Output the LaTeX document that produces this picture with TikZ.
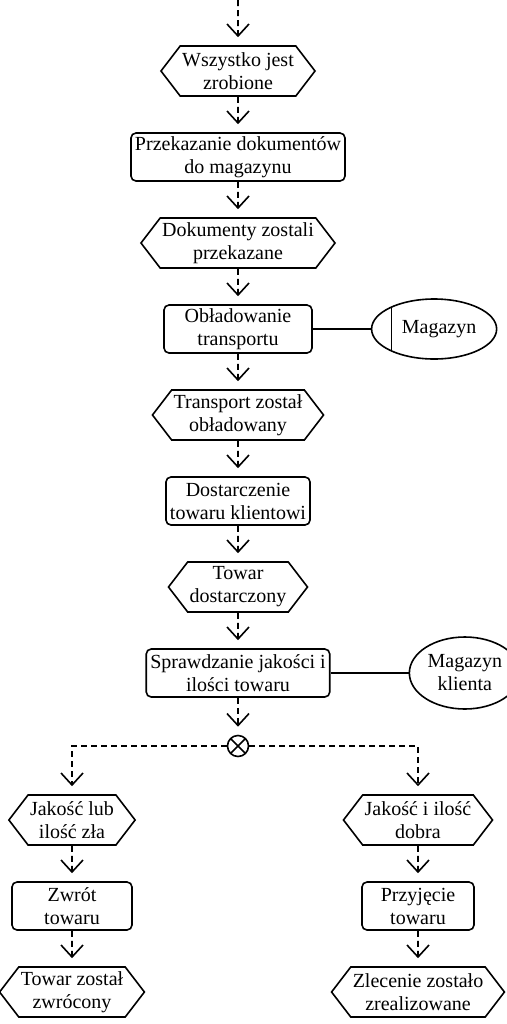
\documentclass[tikz,border=0pt]{standalone}
\usepackage{fontspec}
\setmainfont{Liberation Serif}
\usetikzlibrary{arrows.meta,positioning,shapes.geometric,shapes.symbols}

\begin{document}
\begin{tikzpicture}[node distance= 43pt, line width= 0.8pt,
    every node/.style={font=\fontsize{10}{11.5}\selectfont, align=center},
    zdarz/.style={signal, signal to=west and east, signal pointer angle=105,
      draw, minimum height=25pt, inner xsep=1pt, inner ysep=1pt},
    funkc/.style={draw, rounded corners=2.5pt, minimum height=24pt,
      inner xsep=2pt, inner ysep=1pt},
    mag/.style={ellipse, draw, minimum width=59pt, minimum height=30pt, inner sep=1pt},
    xor/.style={circle, draw, minimum size=10.5pt, inner sep=0pt,
      path picture={\draw (path picture bounding box.north west) -- (path picture bounding box.south east)
        (path picture bounding box.north east) -- (path picture bounding box.south west);}},
    flow/.style={dash pattern=on 3pt off 2pt, -{Straight Barb[length=6pt,width=11pt]}, shorten >=4pt}]
      \useasboundingbox (0,0) rectangle (253.5pt,-512pt);
      \coordinate (S) at (119pt,0);
      % glowna sciezka
      \node[zdarz] (E1) at (119pt,-35.5pt) {Wszystko jest\\zrobione};
      \node[funkc] (F1) [below of= E1] {Przekazanie dokumentów\\do magazynu};
      \node[zdarz] (E2) [below of= F1] {Dokumenty zostali\\przekazane};
      \node[funkc, minimum width=74pt] (F2) [below of= E2] {Obładowanie\\transportu};
      \node[zdarz] (E3) [below of= F2] {Transport został\\obładowany};
      \node[funkc] (F3) [below of= E3] {Dostarczenie\\towaru klientowi};
      \node[zdarz] (E4) [below of= F3] {Towar\\dostarczony};
      \node[funkc] (F4) [below of= E4] {Sprawdzanie jakości i\\ilości towaru};
      \node[xor] (X) [below of= F4, node distance= 36.5pt] {};
      \node[mag, path picture={\draw ([xshift=10pt]path picture bounding box.north west)
        -- ([xshift=10pt]path picture bounding box.south west);}] (M1) [right= 29pt of F2] {\hspace*{5pt}Magazyn};
      \node[mag, minimum width=49pt, minimum height=36pt] (M2) [right= 39pt of F4] {Magazyn\\klienta};
      % galezie
      \node[zdarz] (E5) at (36pt,-410pt) {Jakość lub\\ilość zła};
      \node[funkc, minimum width=60pt] (F5) [below of= E5] {Zwrót\\towaru};
      \node[zdarz] (E6) [below of= F5] {Towar został\\zwrócony};
      \node[zdarz] (E7) at (209pt,-410pt) {Jakość i ilość\\dobra};
      \node[funkc, minimum width=56pt] (F6) [below of= E7] {Przyjęcie\\towaru};
      \node[zdarz] (E8) [below of= F6] {Zlecenie zostało\\zrealizowane};
      \begin{scope}[every edge/.style={draw, flow}]
        \path (S) edge (E1);
        \path (E1) edge (F1);
        \path (F1) edge (E2);
        \path (E2) edge (F2);
        \path (F2) edge (E3);
        \path (E3) edge (F3);
        \path (F3) edge (E4);
        \path (E4) edge (F4);
        \path (F4) edge (X);
        \path (E5) edge (F5);
        \path (F5) edge (E6);
        \path (E7) edge (F6);
        \path (F6) edge (E8);
      \end{scope}
      \draw[flow] (X) -| (E5);
      \draw[flow] (X) -| (E7);
      \draw (F2) -- (M1);
      \draw (F4) -- (M2);
    \end{tikzpicture}
\end{document}
